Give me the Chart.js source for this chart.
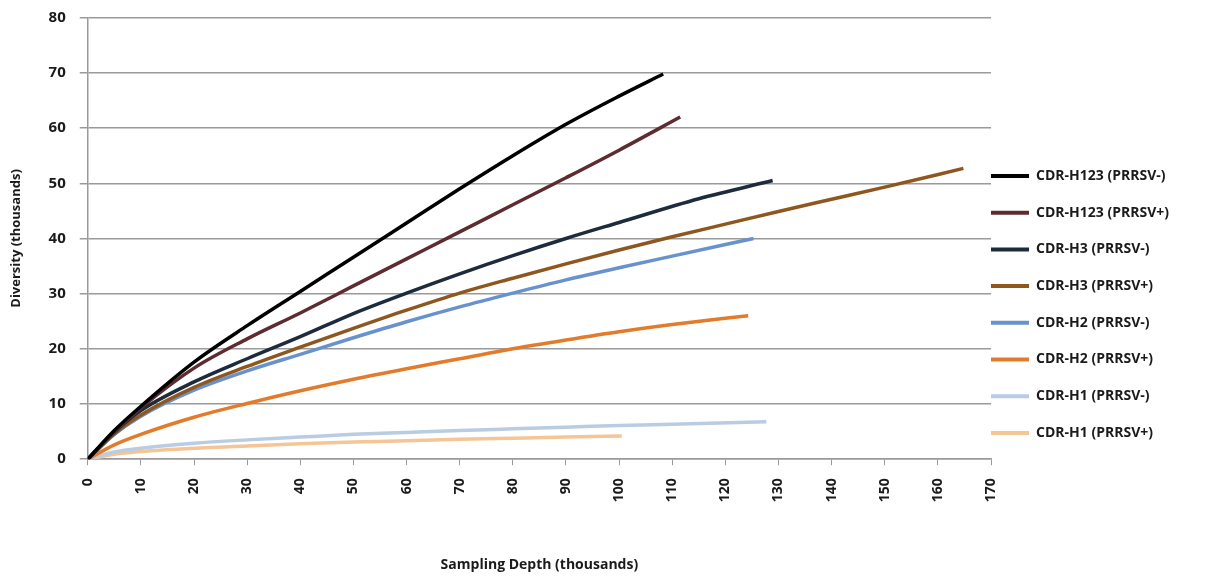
<!doctype html>
<html lang="en">
  <head>
    <meta charset="utf-8">
    <title>Diversity vs Sampling Depth</title>
    <style>
      * {
        margin: 0;
        padding: 0;
      }
      body {
        background: white;
      }
      .chartBox {
        width: 1207px;
        height: 577px;
      }
    </style>
  </head>
  <body>
    <div class="chartBox">
      <canvas id="myChart"></canvas>
    </div>
    <script src="https://cdn.jsdelivr.net/npm/chart.js/dist/chart.umd.min.js"></script>
    <script>
    // series names (legend order)
    const seriesNames = [
      'CDR-H123 (PRRSV-)', 'CDR-H123 (PRRSV+)', 'CDR-H3 (PRRSV-)', 'CDR-H3 (PRRSV+)',
      'CDR-H2 (PRRSV-)', 'CDR-H2 (PRRSV+)', 'CDR-H1 (PRRSV-)', 'CDR-H1 (PRRSV+)'
    ];
    const seriesColors = ['#000000', '#5e2c30', '#1d2b3c', '#8e5720', '#6892cd', '#e27b2b', '#b9cce2', '#f5c596'];

    // sampling depth (thousands) / diversity (thousands)
    const h123NegX = [0, 5, 10, 20, 30, 40, 50, 60, 70, 80, 90, 100, 108.3];
    const h123NegY = [0, 5.2, 9.6, 17.6, 24.2, 30.4, 36.6, 42.8, 49.0, 55.0, 60.7, 65.8, 69.8];
    const h123PosX = [0, 5, 10, 20, 30, 40, 50, 60, 70, 80, 90, 100, 111.5];
    const h123PosY = [0, 5.0, 9.3, 16.5, 21.8, 26.5, 31.4, 36.3, 41.2, 46.1, 51.0, 56.0, 62.0];
    const h3NegX = [0, 5, 10, 20, 30, 40, 50, 60, 70, 80, 90, 100, 115, 128.9];
    const h3NegY = [0, 4.9, 8.8, 14.0, 18.2, 22.2, 26.4, 30.1, 33.6, 36.9, 40.0, 42.9, 47.2, 50.5];
    const h3PosX = [0, 5, 10, 20, 30, 40, 50, 60, 70, 80, 90, 100, 110, 120, 130, 140, 150, 164.8];
    const h3PosY = [0, 4.6, 8.0, 13.0, 16.8, 20.3, 23.7, 27.0, 30.1, 32.8, 35.4, 37.9, 40.3, 42.6, 44.9, 47.1, 49.3, 52.7];
    const h2NegX = [0, 5, 10, 20, 30, 40, 50, 60, 70, 80, 90, 100, 110, 125.3];
    const h2NegY = [0, 4.5, 7.8, 12.5, 16.0, 19.0, 22.0, 24.9, 27.6, 30.1, 32.5, 34.7, 36.8, 40.0];
    const h2PosX = [0, 5, 10, 20, 30, 40, 50, 60, 70, 80, 90, 100, 110, 124.3];
    const h2PosY = [0, 2.6, 4.5, 7.6, 10.1, 12.4, 14.5, 16.4, 18.2, 20.0, 21.6, 23.1, 24.4, 26.0];
    const h1NegX = [0, 5, 10, 20, 30, 40, 50, 60, 70, 80, 90, 100, 110, 127.7];
    const h1NegY = [0, 1.3, 2.0, 2.9, 3.5, 4.0, 4.5, 4.85, 5.2, 5.5, 5.8, 6.1, 6.35, 6.8];
    const h1PosX = [0, 5, 10, 20, 30, 40, 50, 60, 70, 80, 90, 100.5];
    const h1PosY = [0, 0.9, 1.4, 2.0, 2.4, 2.8, 3.1, 3.35, 3.6, 3.8, 4.0, 4.2];

    const xTicks = [0, 10, 20, 30, 40, 50, 60, 70, 80, 90, 100, 110, 120, 130, 140, 150, 160, 170];
    const yTicks = [0, 10, 20, 30, 40, 50, 60, 70, 80];

    const seriesX = [h123NegX, h123PosX, h3NegX, h3PosX, h2NegX, h2PosX, h1NegX, h1PosX];
    const seriesY = [h123NegY, h123PosY, h3NegY, h3PosY, h2NegY, h2PosY, h1NegY, h1PosY];

    const fontFamily = '"Open Sans", "DejaVu Sans", sans-serif';
    const gridColor = '#9a9a9a';

    const data = {
      datasets: seriesNames.map((name, i) => ({
        label: name,
        data: seriesX[i].map((x, j) => ({ x: x, y: seriesY[i][j] })),
        borderColor: seriesColors[i],
        backgroundColor: seriesColors[i],
        borderWidth: 3.5,
        pointRadius: 0,
        cubicInterpolationMode: 'monotone',
        fill: false
      }))
    };

    const config = {
      type: 'line',
      data,
      options: {
        responsive: true,
        maintainAspectRatio: false,
        animation: false,
        layout: {
          padding: { left: 8, right: 28, top: 2, bottom: 4 }
        },
        plugins: {
          tooltip: { enabled: false },
          legend: {
            position: 'right',
            align: 'center',
            title: {
              display: true,
              text: '',
              font: { size: 10 },
              padding: { top: 47.6, bottom: 0 }
            },
            labels: {
              boxWidth: 41,
              boxHeight: 4,
              padding: -3,
              color: '#1a1a1a',
              font: { family: fontFamily, size: 14, weight: 'bold', lineHeight: '39.7px' },
              generateLabels: (chart) => {
                const items = Chart.defaults.plugins.legend.labels.generateLabels(chart);
                items.forEach((it) => {
                  it.lineWidth = 0;
                  it.text = [it.text];
                });
                return items;
              }
            }
          }
        },
        scales: {
          x: {
            type: 'linear',
            min: 0,
            max: 170,
            afterBuildTicks: (axis) => { axis.ticks = xTicks.map((v) => ({ value: v })); },
            ticks: {
              maxRotation: 90,
              minRotation: 90,
              padding: 13,
              color: '#1a1a1a',
              font: { family: fontFamily, size: 14, weight: 'bold' }
            },
            grid: {
              drawOnChartArea: false,
              drawTicks: true,
              tickLength: 6,
              color: gridColor
            },
            border: { display: true, color: gridColor, width: 1.5 },
            title: {
              display: true,
              text: 'Sampling Depth (thousands)',
              color: '#1a1a1a',
              font: { family: fontFamily, size: 14, weight: 'bold' },
              padding: { top: 41, bottom: 0 }
            }
          },
          y: {
            min: 0,
            max: 80,
            afterBuildTicks: (axis) => { axis.ticks = yTicks.map((v) => ({ value: v })); },
            ticks: {
              padding: 14,
              color: '#1a1a1a',
              font: { family: fontFamily, size: 15, weight: 'bold', lineHeight: 0.5 }
            },
            grid: {
              color: gridColor,
              lineWidth: 1.5,
              tickLength: 8
            },
            border: { display: true, color: gridColor, width: 1.5 },
            title: {
              display: true,
              text: 'Diversity (thousands)',
              color: '#1a1a1a',
              font: { family: fontFamily, size: 13, weight: 'bold' },
              padding: { top: 0, bottom: 11 }
            }
          }
        }
      }
    };

    const myChart = new Chart(document.getElementById('myChart'), config);
    </script>
  </body>
</html>
